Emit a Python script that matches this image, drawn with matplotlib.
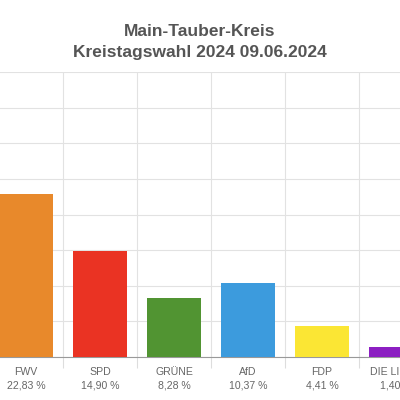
import matplotlib
matplotlib.use('Agg')
import matplotlib.pyplot as plt
import numpy as np

parteien = ['FWV', 'SPD', 'GRÜNE', 'AfD', 'FDP', 'DIE LINKE']
anteile = [22.83, 14.90, 8.28, 10.37, 4.41, 1.40]
farben = ['#E8892B', '#EA3323', '#519432', '#3C9BDD', '#FBE634', '#8C1FC2']

plt.rcParams['font.family'] = ['Liberation Sans', 'DejaVu Sans']

fig = plt.figure(figsize=(4, 4), dpi=100)
ax = fig.add_axes([0, 0.1075, 1, 0.7125])

x = np.arange(len(parteien))
ax.bar(x, anteile, width=0.72, color=farben, zorder=3)

labels = [p + '\n' + ('%.2f' % v).replace('.', ',') + ' %' for p, v in zip(parteien, anteile)]
ax.set_xticks(x)
ax.set_xticklabels(labels, fontsize=7.6, color='#666666', linespacing=1.45)
ax.tick_params(axis='x', which='major', length=0, pad=7)
ax.set_xticks(np.arange(-0.5, len(parteien)), minor=True)
ax.tick_params(axis='x', which='minor', length=8, color='#dddddd', width=0.8)

ax.set_yticks(np.arange(0, 41, 5))
ax.set_yticklabels([])
ax.tick_params(axis='y', length=0)

# im Original ist das Diagramm links und rechts abgeschnitten
ax.set_xlim(-26 / 74, 374 / 74)
ax.set_ylim(0, 40)

ax.grid(axis='y', color='#e2e2e2', linewidth=0.8, zorder=0)
ax.grid(axis='x', which='minor', color='#e2e2e2', linewidth=0.8, zorder=0)

for s in ['left', 'right', 'top']:
    ax.spines[s].set_visible(False)
ax.spines['bottom'].set_color('#999999')
ax.spines['bottom'].set_linewidth(0.8)

fig.text(0.5, 0.92, 'Main-Tauber-Kreis', ha='center', va='center',
         fontsize=12.5, fontweight='bold', color='#555555')
fig.text(0.5, 0.87, 'Kreistagswahl 2024 09.06.2024', ha='center', va='center',
         fontsize=12.5, fontweight='bold', color='#555555')

fig.savefig('out.png', dpi=100)
